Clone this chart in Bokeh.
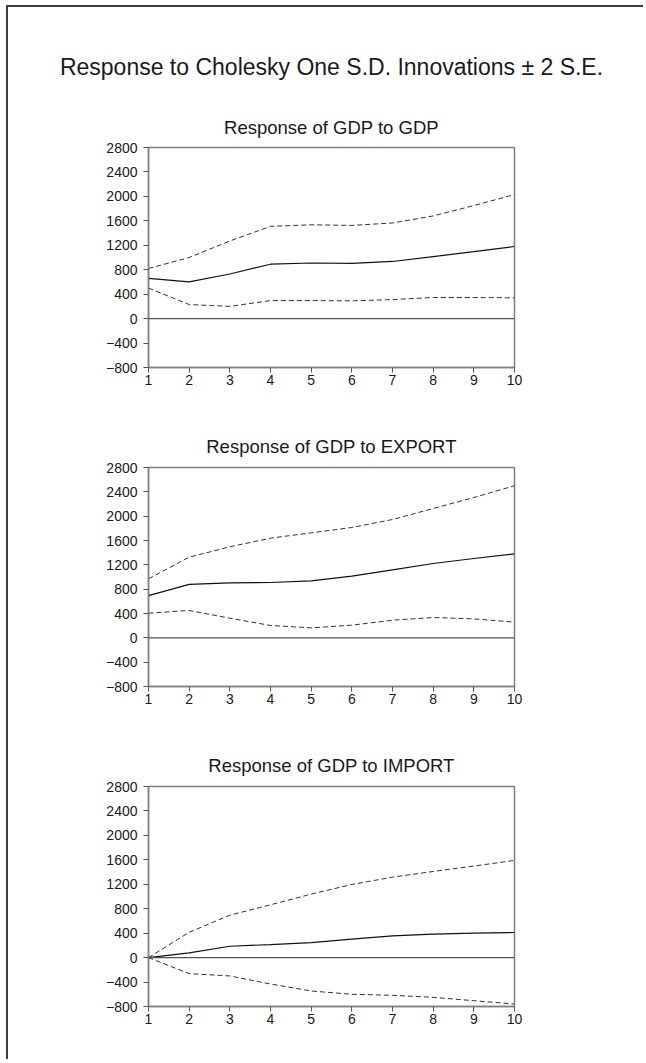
from bokeh.plotting import figure
from bokeh.layouts import column
from bokeh.models import Range1d, FixedTicker, Title, Span
from bokeh.embed import file_html
from bokeh.resources import INLINE

# ---- data ----
periods = [1, 2, 3, 4, 5, 6, 7, 8, 9, 10]
y_ticks = [-800, -400, 0, 400, 800, 1200, 1600, 2000, 2400, 2800]

main_title = "Response to Cholesky One S.D. Innovations \u00b1 2 S.E."

gdp_title = "Response of GDP to GDP"
gdp_resp = [660, 600, 730, 890, 910, 905, 935, 1015, 1095, 1180]
gdp_upper = [820, 1000, 1270, 1510, 1535, 1525, 1565, 1680, 1850, 2030]
gdp_lower = [500, 230, 200, 295, 295, 290, 312, 345, 345, 340]

exp_title = "Response of GDP to EXPORT"
exp_resp = [695, 880, 905, 910, 937, 1014, 1118, 1222, 1304, 1380]
exp_upper = [970, 1326, 1496, 1638, 1726, 1814, 1945, 2126, 2307, 2500]
exp_lower = [405, 450, 323, 203, 164, 208, 290, 334, 312, 258]

imp_title = "Response of GDP to IMPORT"
imp_resp = [0, 77, 186, 213, 246, 301, 356, 383, 400, 411]
imp_upper = [0, 415, 694, 864, 1039, 1197, 1317, 1410, 1498, 1590]
imp_lower = [0, -262, -300, -432, -546, -600, -617, -650, -705, -760]

FONT = "Liberation Sans"
TXT = "#1a1a1a"
AX = "#808080"


def panel(title, resp, upper, lower, top, fh, bottom, left, tstand, main=None):
    fw = 369
    W = 637
    p = figure(width=W, height=top + fh + bottom,
               min_border_left=left, min_border_right=W - left - fw,
               min_border_top=top, min_border_bottom=bottom,
               x_range=Range1d(1, 10), y_range=Range1d(-800, 2800),
               output_backend="svg", toolbar_location=None, title=None)
    p.add_layout(Title(text=title, align="center", text_font=FONT,
                       text_font_size="18.5px", text_font_style="normal",
                       text_color=TXT, standoff=tstand), "above")
    if main is not None:
        p.add_layout(Title(text=main, align="center",
                           text_font=FONT, text_font_size="23px",
                           text_font_style="normal", text_color=TXT,
                           standoff=51), "above")
    p.xgrid.visible = False
    p.ygrid.visible = False
    p.outline_line_color = AX
    p.outline_line_width = 1.5
    p.background_fill_color = "white"
    p.border_fill_color = "white"
    for ax, ticks, stand in ((p.xaxis[0], periods, 2), (p.yaxis[0], y_ticks, 6)):
        ax.ticker = FixedTicker(ticks=ticks)
        ax.minor_tick_line_color = None
        ax.major_tick_in = 0
        ax.major_tick_out = 5
        ax.axis_line_color = AX
        ax.axis_line_width = 1.5
        ax.major_tick_line_color = "#555555"
        ax.major_label_text_font = FONT
        ax.major_label_text_font_size = "14px"
        ax.major_label_text_color = TXT
        ax.major_label_standoff = stand
    p.add_layout(Span(location=0, dimension="width", line_color="#555555",
                      line_width=1.2))
    p.line(periods, upper, line_color="#333333", line_width=1, line_dash="5 3")
    p.line(periods, lower, line_color="#333333", line_width=1, line_dash="5 3")
    p.line(periods, resp, line_color="#111111", line_width=1.2)
    return p


p1 = panel(gdp_title, gdp_resp, gdp_upper, gdp_lower, 140, 220, 53, 140, 19, main=main_title)
p2 = panel(exp_title, exp_resp, exp_upper, exp_lower, 47, 219, 54, 137, 22)
p3 = panel(imp_title, imp_resp, imp_upper, imp_lower, 46, 220, 55, 137, 21)

layout = column(p1, p2, p3, spacing=0, margin=(7, 0, 0, 8),
                styles={"box-shadow": "-2px -2px 0 0 #3c3c3c"})
open("out.html", "w").write(file_html(layout, INLINE))
